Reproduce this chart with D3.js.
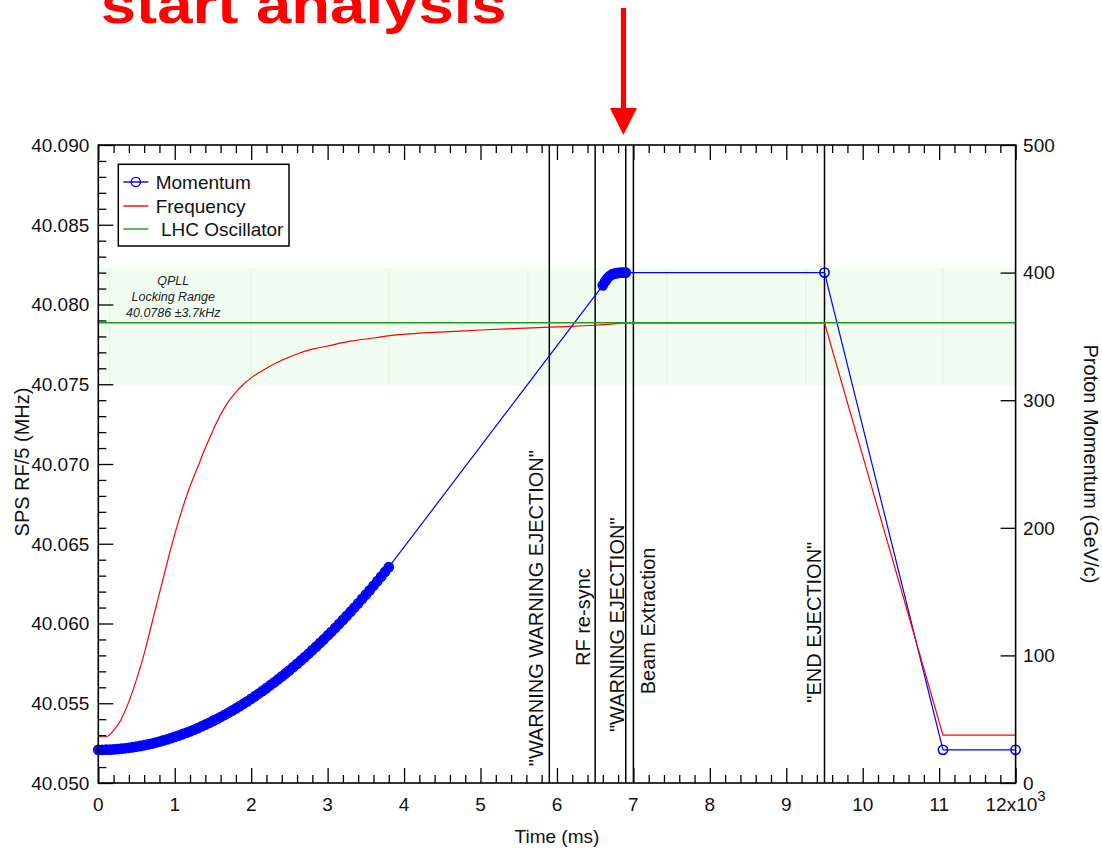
<!DOCTYPE html>
<html><head><meta charset="utf-8">
<script src="https://cdn.jsdelivr.net/npm/d3@7"></script>
<style>
body{margin:0;background:#fff}
svg{display:block}
text{font-family:"Liberation Sans",Arial,Helvetica,sans-serif;fill:#111}
</style>
</head><body>
<svg id="c" width="1102" height="848"></svg>
<script>
// ---------------- data ----------------
const momentumTime = [0.00,0.05,0.10,0.15,0.20,0.25,0.30,0.35,0.40,0.45,0.50,0.55,0.60,0.65,0.70,0.75,0.80,0.85,0.90,0.95,
  1.00,1.05,1.10,1.15,1.20,1.25,1.30,1.35,1.40,1.45,1.50,1.55,1.60,1.65,1.70,1.75,1.80,1.85,1.90,1.95,
  2.00,2.05,2.10,2.15,2.20,2.25,2.30,2.35,2.40,2.45,2.50,2.55,2.60,2.65,2.70,2.75,2.80,2.85,2.90,2.95,
  3.00,3.05,3.10,3.15,3.20,3.25,3.30,3.35,3.40,3.45,3.50,3.55,3.60,3.65,3.70,3.75,3.80,
  6.60,6.63,6.66,6.69,6.72,6.75,6.78,6.81,6.84,6.87,6.90,
  9.50,11.05,12.00];
const momentumGeV = [26.0,26.0,26.1,26.2,26.4,26.6,26.9,27.2,27.6,28.0,28.5,29.0,29.6,30.3,30.9,31.7,32.4,33.3,34.2,35.1,
  36.1,37.1,38.2,39.3,40.5,41.7,43.0,44.3,45.7,47.1,48.6,50.1,51.7,53.3,54.9,56.7,58.4,60.3,62.1,64.0,
  66.0,68.0,70.1,72.2,74.4,76.6,78.8,81.1,83.5,85.9,88.3,90.8,93.4,96.0,98.6,101.3,104.1,106.9,109.7,112.6,
  115.6,118.5,121.6,124.7,127.8,131.0,134.2,137.5,140.8,144.2,147.6,151.0,154.6,158.1,161.7,165.4,169.1,
  390.0,393.0,395.5,397.3,398.5,399.2,399.6,399.8,400.0,400.0,400.0,
  400.0,26.0,26.0];
// the densely sampled stretches of the momentum record (index ranges into the arrays above)
const momentumDenseRuns = [[0,76],[77,87]];

const freqTime = [0,0.1,0.2,0.3,0.4,0.5,0.6,0.7,0.8,0.9,1.0,1.1,1.2,1.3,1.4,1.5,1.6,1.7,1.8,1.9,2.0,
  2.2,2.4,2.6,2.8,3.0,3.3,3.6,3.9,4.2,4.6,5.0,5.5,6.0,6.5,6.9];
const freqMHz = [40.0529,40.0529,40.0533,40.0540,40.0551,40.0565,40.0581,40.0600,40.0619,40.0638,40.0656,
  40.0672,40.0686,40.0698,40.0710,40.0721,40.0731,40.0739,40.0745,40.0750,40.0754,
  40.0760,40.0765,40.0769,40.0772,40.0774,40.0777,40.0779,40.0781,40.0782,40.0783,40.0784,40.0785,40.0786,40.0787,40.07885];
const freqTailTime = [6.9, 9.5, 11.05, 12.0];
const freqTailMHz = [40.07885, 40.07885, 40.0530, 40.0530];

const lhcOscillatorMHz = 40.07885;
const qpllCenterMHz = 40.0786;
const qpllHalfRangeMHz = 0.0037;
const qpllText = ["QPLL", "Locking Range", "40.0786 \u00b13.7kHz"];
const bandGridTime = [0.15, 2.0, 3.8, 5.62, 7.44, 9.26, 11.05];

const eventTime = [5.9, 6.5, 6.9, 7.0, 9.5];
const eventLabel = ['"WARNING WARNING EJECTION"', 'RF  re-sync', '"WARNING EJECTION"', 'Beam Extraction', '"END EJECTION"'];
const eventLabelTime = [5.824, 6.426, 6.871, 7.283, 9.448];
const eventLabelGeV = [137, 130, 124, 127, 126];

const xTickValues = [0,1,2,3,4,5,6,7,8,9,10,11,12];
const xTickLabels = ["0","1","2","3","4","5","6","7","8","9","10","11","12x10"];
const yLeftTickValues = [40.050,40.055,40.060,40.065,40.070,40.075,40.080,40.085,40.090];
const yLeftTickLabels = ["40.050","40.055","40.060","40.065","40.070","40.075","40.080","40.085","40.090"];
const yRightTickValues = [0,100,200,300,400,500];
const yRightTickLabels = ["0","100","200","300","400","500"];
const legendNames = ["Momentum","Frequency"," LHC Oscillator"];
const titleText = "start analysis";
const arrowTime = 6.87;

// ---------------- drawing ----------------
const svg = d3.select("#c");
const L = 98.3, R = 1015.6, T = 145, B = 783;
const x = d3.scaleLinear().domain([0,12]).range([L,R]);
const yF = d3.scaleLinear().domain([40.05,40.09]).range([B,T]);
const yP = d3.scaleLinear().domain([0,500]).range([B,T]);

const BLUE = "#0000ff", RED = "#ff0000", GREEN = "#1e9a1e";

// title + arrow
svg.append("text").attr("x",100.7).attr("y",23).attr("textLength",406).attr("lengthAdjust","spacingAndGlyphs")
  .style("font-size","54px").style("font-weight","bold").style("fill",RED).text(titleText);
const ax = x(arrowTime);
svg.append("rect").attr("x",ax-2.6).attr("y",8).attr("width",5.2).attr("height",104).attr("fill",RED);
svg.append("path").attr("d",`M${ax-13.5},108 L${ax+13.5},108 L${ax},135 Z`).attr("fill",RED);

// QPLL band
svg.append("rect").attr("x",L).attr("width",R-L)
  .attr("y",yF(qpllCenterMHz+qpllHalfRangeMHz))
  .attr("height",yF(qpllCenterMHz-qpllHalfRangeMHz)-yF(qpllCenterMHz+qpllHalfRangeMHz))
  .attr("fill","#f0fdf0");
svg.selectAll("line.bg").data(bandGridTime).enter().append("line")
  .attr("x1",d=>x(d)).attr("x2",d=>x(d))
  .attr("y1",yF(qpllCenterMHz+qpllHalfRangeMHz)).attr("y2",yF(qpllCenterMHz-qpllHalfRangeMHz))
  .attr("stroke","#e0f6e0").attr("stroke-width",1);

// QPLL text
const qx = x(0.98), qTop = yF(qpllCenterMHz+qpllHalfRangeMHz);
qpllText.forEach((t,i)=>{
  svg.append("text").attr("x",qx).attr("y",qTop+17+i*16).attr("text-anchor","middle")
    .style("font-size","12.5px").style("font-style","italic").style("fill","#222").text(t);
});

// event lines
svg.selectAll("line.ev").data(eventTime).enter().append("line")
  .attr("x1",d=>x(d)).attr("x2",d=>x(d)).attr("y1",T).attr("y2",B)
  .attr("stroke","#000").attr("stroke-width",1.5);
eventLabel.forEach((lab,i)=>{
  svg.append("text").attr("transform",`translate(${x(eventLabelTime[i])},${yP(eventLabelGeV[i])}) rotate(-90)`)
    .attr("text-anchor","middle").style("font-size","20px").text(lab);
});

// momentum
const mom = momentumTime.map((t,i)=>({t, v:momentumGeV[i]}));
const momLine = d3.line().x(d=>x(d.t)).y(d=>yP(d.v));
// heavy overlapping markers in densely sampled stretches
momentumDenseRuns.forEach(([a,b])=>{
  svg.append("path").datum(mom.slice(a,b+1)).attr("fill","none").attr("stroke",BLUE)
    .attr("stroke-width",8).attr("stroke-linecap","round").attr("stroke-linejoin","round").attr("d",momLine);
});
svg.append("path").datum(mom).attr("fill","none").attr("stroke",BLUE).attr("stroke-width",1.2).attr("d",momLine);
svg.selectAll("circle.m").data(mom).enter().append("circle")
  .attr("cx",d=>x(d.t)).attr("cy",d=>yP(d.v)).attr("r",4.6)
  .attr("fill","none").attr("stroke",BLUE).attr("stroke-width",1.6);

// frequency
const fr = freqTime.map((t,i)=>({t, v:freqMHz[i]}));
svg.append("path").datum(fr).attr("fill","none").attr("stroke",RED).attr("stroke-width",1.2)
  .attr("d",d3.line().x(d=>x(d.t)).y(d=>yF(d.v)).curve(d3.curveMonotoneX));
const frt = freqTailTime.map((t,i)=>({t, v:freqTailMHz[i]}));
svg.append("path").datum(frt).attr("fill","none").attr("stroke",RED).attr("stroke-width",1.2)
  .attr("d",d3.line().x(d=>x(d.t)).y(d=>yF(d.v)));

// LHC oscillator
svg.append("line").attr("x1",L).attr("x2",R).attr("y1",yF(lhcOscillatorMHz)).attr("y2",yF(lhcOscillatorMHz))
  .attr("stroke",GREEN).attr("stroke-width",1.5);

// ticks
function styleAxis(g){ g.select(".domain").remove(); g.selectAll("line").attr("stroke","#000").attr("stroke-width",1.3); g.selectAll("text").remove(); }
const xMinor = d3.range(0,12.001,0.2).filter(v=>Math.abs(v-Math.round(v))>1e-6);
const yMinor = d3.range(40.050,40.0901,0.001).filter(v=>Math.abs(v*200-Math.round(v*200))>1e-6);
svg.append("g").attr("transform",`translate(0,${B})`).call(d3.axisBottom(x).tickValues(xTickValues).tickSize(-15)).call(styleAxis);
svg.append("g").attr("transform",`translate(0,${B})`).call(d3.axisBottom(x).tickValues(xMinor).tickSize(-8)).call(styleAxis);
svg.append("g").attr("transform",`translate(0,${T})`).call(d3.axisTop(x).tickValues(xTickValues).tickSize(-15)).call(styleAxis);
svg.append("g").attr("transform",`translate(0,${T})`).call(d3.axisTop(x).tickValues(xMinor).tickSize(-8)).call(styleAxis);
svg.append("g").attr("transform",`translate(${L},0)`).call(d3.axisLeft(yF).tickValues(yLeftTickValues).tickSize(-15)).call(styleAxis);
svg.append("g").attr("transform",`translate(${L},0)`).call(d3.axisLeft(yF).tickValues(yMinor).tickSize(-8)).call(styleAxis);
svg.append("g").attr("transform",`translate(${R},0)`).call(d3.axisRight(yP).tickValues(yRightTickValues).tickSize(-15)).call(styleAxis);

// frame
svg.append("rect").attr("x",L).attr("y",T).attr("width",R-L).attr("height",B-T)
  .attr("fill","none").attr("stroke","#000").attr("stroke-width",1.6);

// tick labels
xTickValues.forEach((v,i)=>{
  const t = svg.append("text").attr("x",x(v)).attr("y",B+28).attr("text-anchor","middle").style("font-size","19px");
  t.append("tspan").text(xTickLabels[i]);
  if(i===xTickValues.length-1) t.append("tspan").attr("dy",-10).style("font-size","15px").text("3");
});
yLeftTickValues.forEach((v,i)=>{
  svg.append("text").attr("x",L-9).attr("y",yF(v)).attr("dy","0.36em").attr("text-anchor","end")
    .style("font-size","19px").text(yLeftTickLabels[i]);
});
yRightTickValues.forEach((v,i)=>{
  svg.append("text").attr("x",R+7.5).attr("y",yP(v)).attr("dy","0.36em").attr("text-anchor","start")
    .style("font-size","19px").text(yRightTickLabels[i]);
});

// axis titles
svg.append("text").attr("x",(L+R)/2).attr("y",843).attr("text-anchor","middle").style("font-size","19px").text("Time (ms)");
svg.append("text").attr("transform",`translate(29,462) rotate(-90)`).attr("text-anchor","middle").style("font-size","20px").text("SPS RF/5 (MHz)");
svg.append("text").attr("transform",`translate(1084,464) rotate(90)`).attr("text-anchor","middle").style("font-size","20px").text("Proton Momentum (GeV/c)");

// legend
const lg = svg.append("g");
lg.append("rect").attr("x",118.3).attr("y",164.3).attr("width",170.7).attr("height",81.7)
  .attr("fill","#fff").attr("stroke","#000").attr("stroke-width",1.5);
const legColors = [BLUE, RED, GREEN];
const legY = [182, 206, 229];
legendNames.forEach((n,i)=>{
  lg.append("line").attr("x1",123.3).attr("x2",148.3).attr("y1",legY[i]).attr("y2",legY[i])
    .attr("stroke",legColors[i]).attr("stroke-width",1.4);
  if(i===0) lg.append("circle").attr("cx",135.8).attr("cy",legY[i]).attr("r",4.6)
    .attr("fill","none").attr("stroke",BLUE).attr("stroke-width",1.4);
  lg.append("text").attr("x",155.7).attr("y",legY[i]).attr("dy","0.36em").style("font-size","19px")
    .style("white-space","pre").attr("xml:space","preserve").text(n);
});
</script>
</body></html>
